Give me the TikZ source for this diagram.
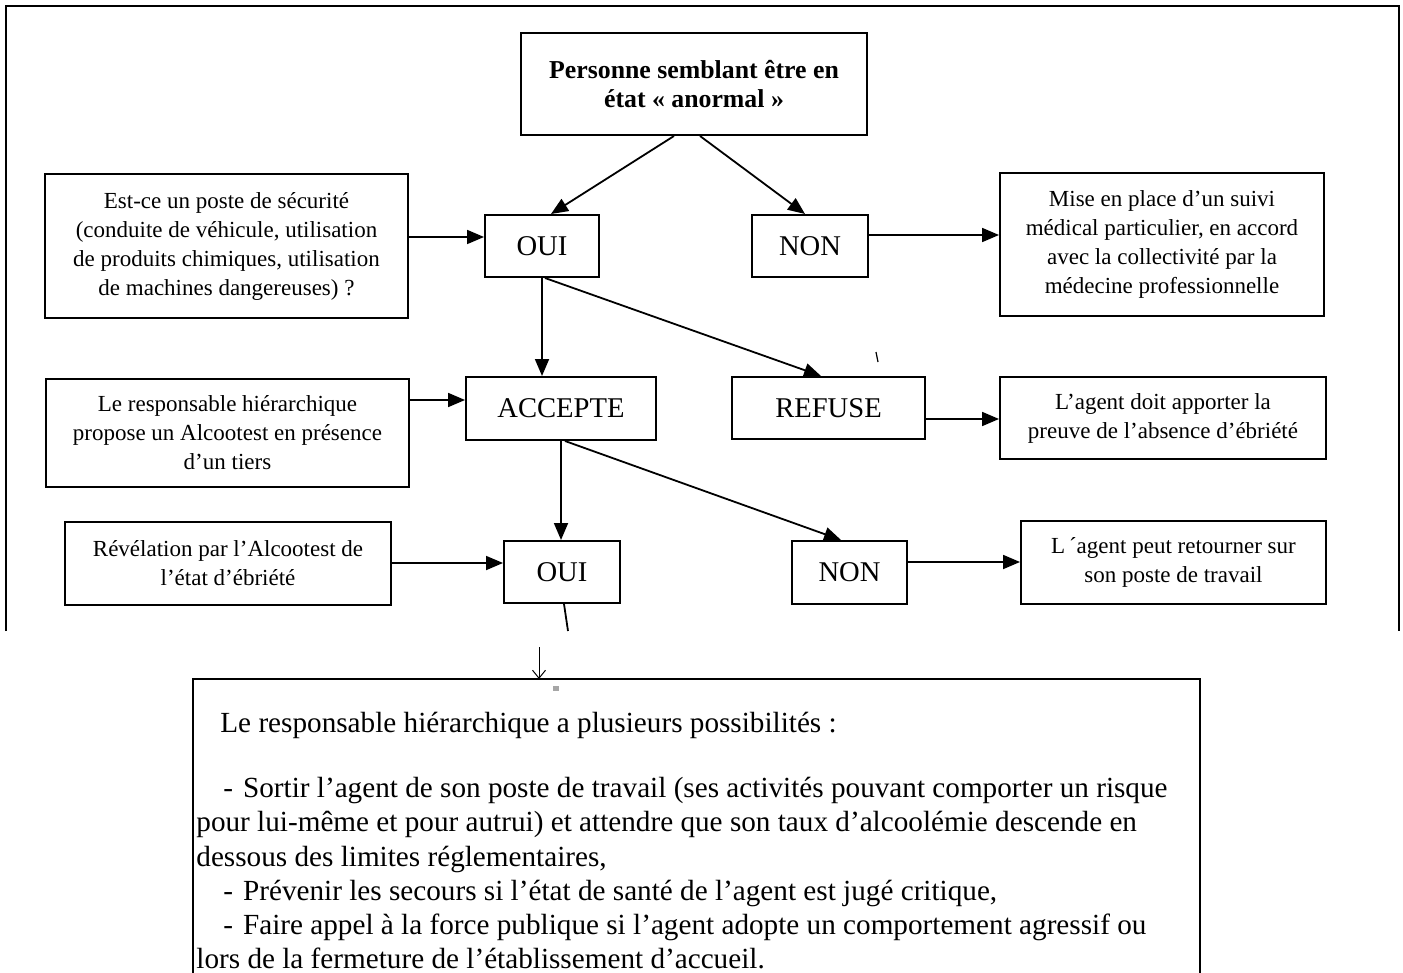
\documentclass[tikz,border=0pt]{standalone}
\usepackage{fontspec}
\setmainfont{Liberation Serif}
\usetikzlibrary{arrows.meta,calc}
\begin{document}
\begin{tikzpicture}[x=0.5pt,y=-0.5pt,
  box/.style={draw,line width=1pt,inner sep=0pt,align=center,font=\fontsize{11.5}{14.5}\selectfont},
  topbox/.style={box,font=\bfseries\fontsize{12.9}{14.5}\selectfont},
  yn/.style={draw,line width=1pt,inner sep=0pt,font=\fontsize{14.3}{17}\selectfont},
  conn/.style={line width=0.9pt,-{Triangle[length=8.5pt,width=7pt]}},
  plain/.style={line width=0.9pt},
  thinarrow/.style={line width=0.5pt,-{Straight Barb[length=4pt,width=6.5pt]}},
  btxt/.style={anchor=base west,inner sep=0pt,font=\fontsize{14.6}{17}\selectfont},
  ]
\useasboundingbox (0,0) rectangle (1403,973);
% outer frame
\draw[line width=1pt] (6,631) -- (6,6) -- (1399,6) -- (1399,631);

\node[topbox,minimum width=173pt,minimum height=51pt] (top) at (694,84) {Personne semblant être en\\état « anormal »};

\node[box,minimum width=181.5pt,minimum height=72pt] (q1) at (226.5,246) {Est-ce un poste de sécurité\\(conduite de véhicule, utilisation\\de produits chimiques, utilisation\\de machines dangereuses) ?};
\node[yn,minimum width=57pt,minimum height=31pt] (oui1) at (542,246) {OUI};
\node[yn,minimum width=58pt,minimum height=31pt] (non1) at (810,246) {NON};
\node[box,minimum width=162pt,minimum height=71.5pt] (r1) at (1162,244.5) {Mise en place d’un suivi\\médical particulier, en accord\\avec la collectivité par la\\médecine professionnelle};

\node[box,minimum width=181.5pt,minimum height=54pt] (q2) at (227.5,433) {Le responsable hiérarchique\\propose un Alcootest en présence\\d’un tiers};
\node[yn,minimum width=95pt,minimum height=31.5pt] (acc) at (561,408.5) {ACCEPTE};
\node[yn,minimum width=96.5pt,minimum height=31pt] (ref) at (828.5,408) {REFUSE};
\node[box,minimum width=163pt,minimum height=41pt] (r2) at (1163,418) {L’agent doit apporter la\\preuve de l’absence d’ébriété};

\node[box,minimum width=163pt,minimum height=41.5pt] (q3) at (228,563.5) {Révélation par l’Alcootest de\\l’état d’ébriété};
\node[yn,minimum width=58pt,minimum height=31pt] (oui2) at (562,572) {OUI};
\node[yn,minimum width=57.5pt,minimum height=31.5pt] (non2) at (849.5,572.5) {NON};
\node[box,minimum width=152.5pt,minimum height=41.5pt] (r3) at (1173.5,562.5) {L\,´agent peut retourner sur\\son poste de travail};

% connectors
\draw[conn] ($(top.south)+(-20,0)$) -- ($(oui1.north)+(9,0)$);
\draw[conn] ($(top.south)+(6,0)$) -- ($(non1.north)+(-5,0)$);
\draw[conn] ($(q1.east)+(0,-9)$) -- ($(oui1.west)+(0,-9)$);
\draw[conn] ($(non1.east)+(0,-11)$) -- ($(r1.west)+(0,-9.5)$);
\draw[conn] (oui1.south) -- (oui1.south |- acc.north);
\draw[conn] ($(oui1.south)+(3,0)$) -- ($(ref.north)+(-7.5,0)$);
\draw[conn] ($(q2.east)+(0,-33)$) -- ($(acc.west)+(0,-8.5)$);
\draw[conn] (acc.south) -- (acc.south |- oui2.north);
\draw[conn] ($(acc.south)+(4,0)$) -- ($(non2.north)+(-8.5,0)$);
\draw[conn] ($(ref.east)+(0,11)$) -- ($(r2.west)+(0,1)$);
\draw[conn] ($(q3.east)+(0,-0.5)$) -- ($(oui2.west)+(0,-9)$);
\draw[conn] ($(non2.east)+(0,-10.5)$) -- ($(r3.west)+(0,-0.5)$);
\coordinate (cut) at (568,631);
\draw[plain] ($(oui2.south)+(2,0)$) -- (cut);

% small marks
\draw[line width=0.6pt] (876,352) -- (878,362);

% bottom box
\coordinate (bbl) at (193,679);
\coordinate (bbr) at (1200,679);
\draw[line width=1.2pt] (193,975) -- (bbl) -- (bbr) -- (1200,975);
\coordinate (arrtop) at (539,647);
\draw[thinarrow] (arrtop) -- (arrtop |- bbl);
\fill[gray!70] (553,686) rectangle (559,691);

\node[btxt] (l1) at (220,732) {Le responsable hiérarchique a plusieurs possibilités :};
\node[btxt] (l2) at (223,797) {-\hspace{5pt}Sortir l’agent de son poste de travail (ses activités pouvant comporter un risque};
\node[btxt] (l3) at (196,831) {pour lui-même et pour autrui) et attendre que son taux d’alcoolémie descende en};
\node[btxt] (l4) at (196,866) {dessous des limites réglementaires,};
\node[btxt] (l5) at (223,900) {-\hspace{5pt}Prévenir les secours si l’état de santé de l’agent est jugé critique,};
\node[btxt] (l6) at (223,934) {-\hspace{5pt}Faire appel à la force publique si l’agent adopte un comportement agressif ou};
\node[btxt] (l7) at (196,968) {lors de la fermeture de l’établissement d’accueil.};
\end{tikzpicture}
\end{document}
